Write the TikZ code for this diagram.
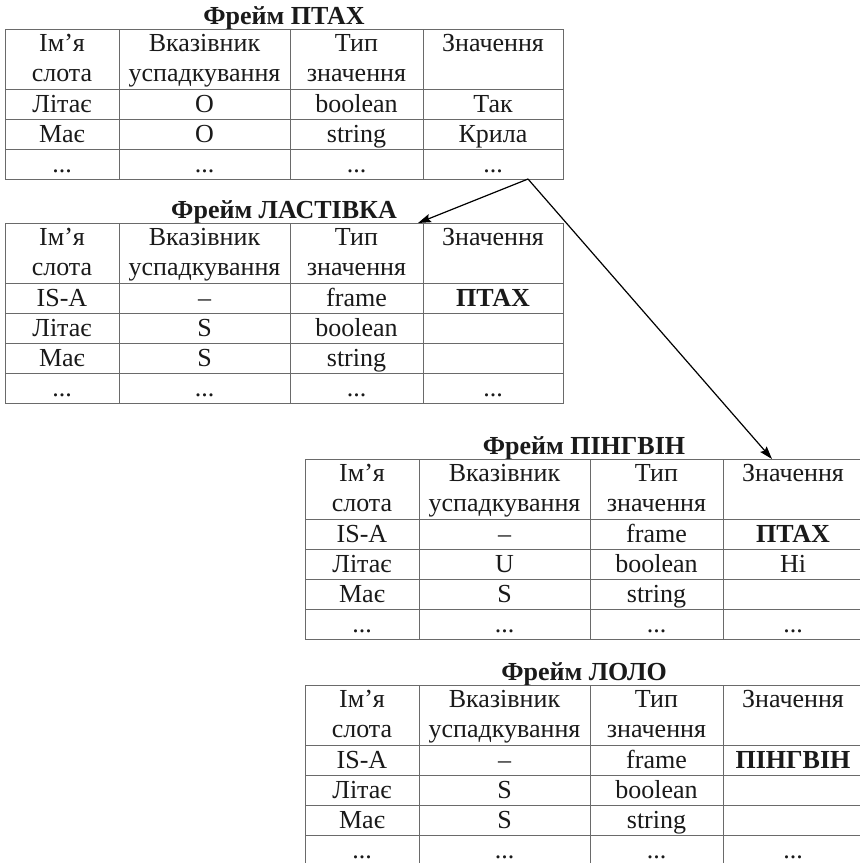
\documentclass[tikz,border=0pt]{standalone}
\usepackage{fontspec}
\setmainfont{Liberation Serif}
\usetikzlibrary{arrows.meta,calc}
\definecolor{ink}{HTML}{1A1A1A}
\definecolor{rule}{HTML}{6A6A6A}
\tikzset{
  tline/.style={draw=rule, line width=0.5pt},
  cell/.style={anchor=center, inner sep=0pt, text=ink,
               font=\fontsize{13}{15}\selectfont, execute at begin node=\strut},
  head/.style={anchor=center, inner sep=0pt, text=ink, align=center,
               font=\fontsize{13}{15}\selectfont},
  ftitle/.style={anchor=base, inner sep=0pt, text=ink,
                 font=\fontsize{13}{15}\selectfont\bfseries},
  fl/.style={-{Stealth[length=6.5pt,width=4.2pt,inset=1pt]}, draw=black, line width=0.6pt}
}
\newcommand{\hdr}[2]{\strut #1\\\strut #2}
\newcommand{\etcdots}{...}
\newcommand{\slotframe}[4]{%
  \begin{scope}[shift={#2}]
    \coordinate (#1-nw) at (0,0);
    \node[ftitle] (#1-title) at (279,-5) {#3};
    \draw[tline] (0,0) rectangle (558,60);
    \foreach \cx in {114,285,418} \draw[tline] (\cx,0) -- (\cx,60);
    \node[head] (#1-h1) at (57,31) {\hdr{Ім’я}{слота}};
    \node[head] (#1-h2) at (199.5,31) {\hdr{Вказівник}{успадкування}};
    \node[head] (#1-h3) at (351.5,31) {\hdr{Тип}{значення}};
    \node[head] (#1-h4) at (488,31) {\hdr{Значення}{}};
    \foreach \a/\b/\c/\d [count=\i] in {#4} {
      \pgfmathsetmacro\ry{30+30*\i}
      \draw[tline] (0,\ry) rectangle (558,\ry+30);
      \foreach \cx in {114,285,418} \draw[tline] (\cx,\ry) -- (\cx,\ry+30);
      \node[cell] (#1-\i-a) at (57,\ry+17) {\a};
      \node[cell] (#1-\i-b) at (199.5,\ry+17) {\b};
      \node[cell] (#1-\i-c) at (351.5,\ry+17) {\c};
      \node[cell] (#1-\i-d) at (488,\ry+17) {\d};
    }
  \end{scope}}

\begin{document}
\begin{tikzpicture}[x=0.5pt, y=-0.5pt]
  \useasboundingbox (0,0) rectangle (860,863);
  \fill[white] (0,0) rectangle (860,863);
  \clip (0,0) rectangle (860,863);

  \slotframe{ptah}{(5,29)}{Фрейм ПТАХ}
    {Літає/O/boolean/Так, Має/O/string/Крила, \etcdots/\etcdots/\etcdots/\etcdots}
  \slotframe{lastivka}{(5,223)}{Фрейм ЛАСТІВКА}
    {IS-A/–/frame/\textbf{ПТАХ}, Літає/S/boolean/{}, Має/S/string/{}, \etcdots/\etcdots/\etcdots/\etcdots}
  \slotframe{pingvin}{(305,459)}{Фрейм ПІНГВІН}
    {IS-A/–/frame/\textbf{ПТАХ}, Літає/U/boolean/Ні, Має/S/string/{}, \etcdots/\etcdots/\etcdots/\etcdots}
  \slotframe{lolo}{(305,685)}{Фрейм ЛОЛО}
    {IS-A/–/frame/\textbf{ПІНГВІН}, Літає/S/boolean/{}, Має/S/string/{}, \etcdots/\etcdots/\etcdots/\etcdots}

  \coordinate (ptah-out) at ($(ptah-nw)+(523,150)$);
  \coordinate (lastivka-in) at ($(lastivka-nw)+(413,0)$);
  \coordinate (pingvin-in) at ($(pingvin-nw)+(467,0)$);
  \draw[fl] (ptah-out) -- (lastivka-in);
  \draw[fl] (ptah-out) -- (pingvin-in);
\end{tikzpicture}
\end{document}
